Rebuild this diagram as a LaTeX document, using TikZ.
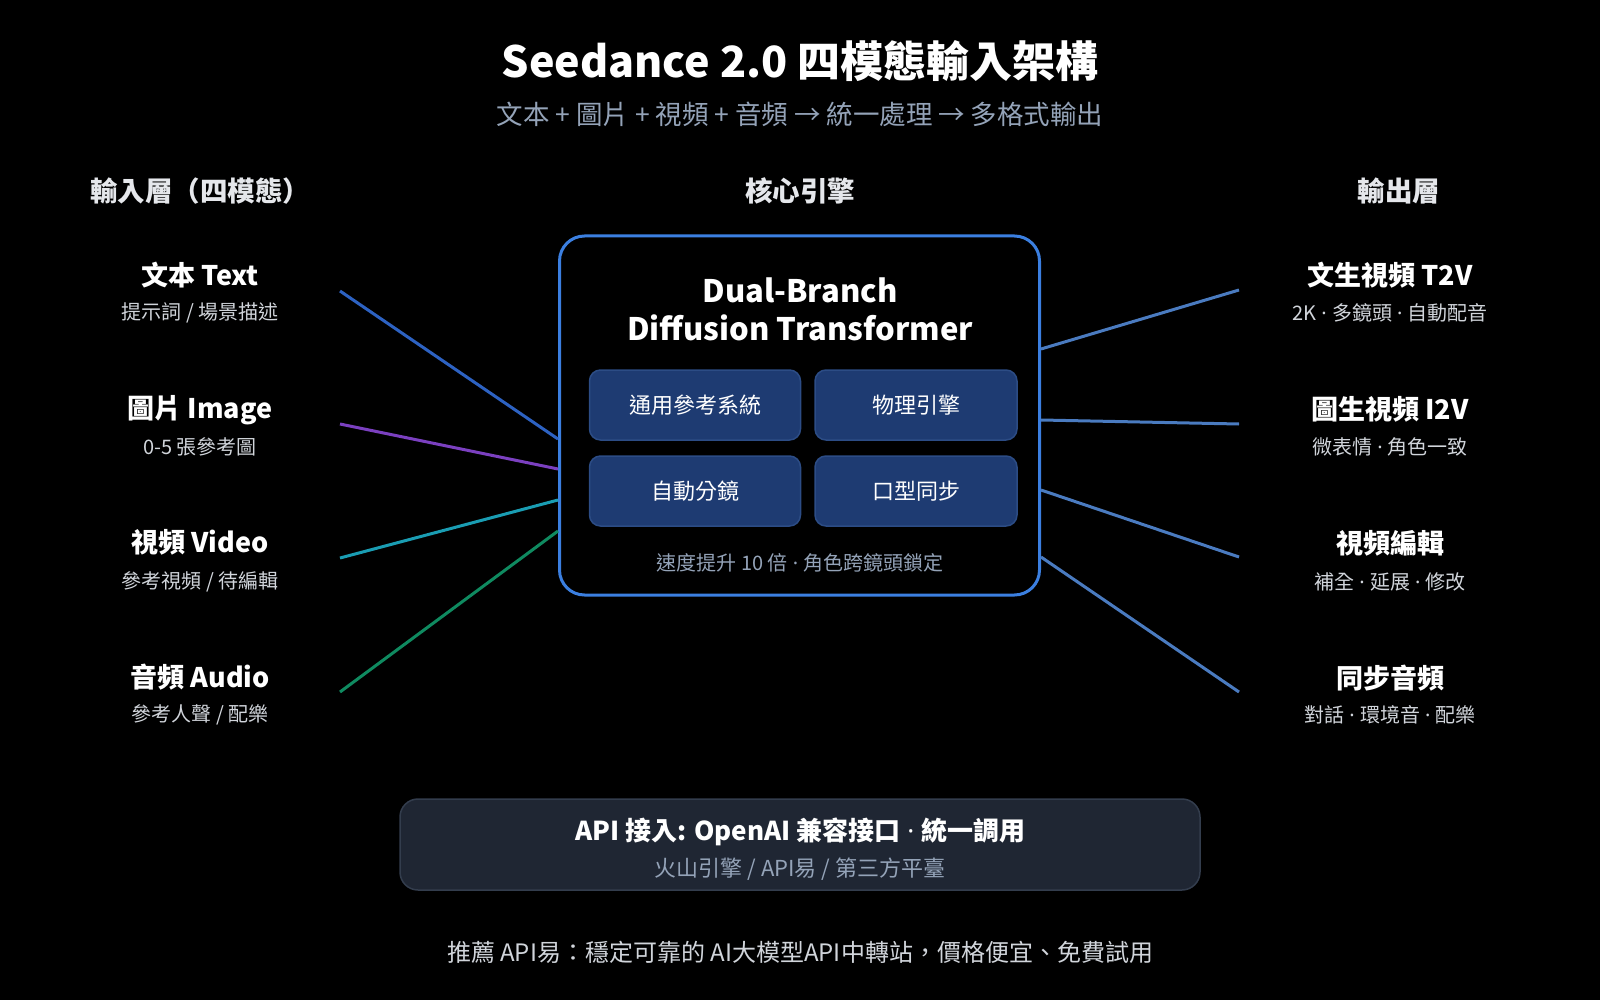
\documentclass[tikz,border=0pt]{standalone}
\usepackage{fontspec}
\setmainfont{Noto Sans CJK TC}
\newfontfamily\latinfont{Noto Sans}
\newcommand{\middot}{{\latinfont\ ·\ }}
\usetikzlibrary{positioning}

\definecolor{coreblue}{RGB}{59,127,224}
\definecolor{linktext}{RGB}{45,98,194}
\definecolor{linkimage}{RGB}{123,64,192}
\definecolor{linkvideo}{RGB}{26,157,179}
\definecolor{linkaudio}{RGB}{15,138,96}
\definecolor{linkout}{RGB}{74,123,192}
\definecolor{modfill}{RGB}{30,59,114}
\definecolor{modborder}{RGB}{44,76,133}
\definecolor{apifill}{RGB}{31,38,51}
\definecolor{apiborder}{RGB}{51,61,77}
\definecolor{slategray}{RGB}{148,163,184}
\definecolor{softgray}{RGB}{209,213,219}
\definecolor{headgray}{RGB}{229,231,235}

\begin{document}
\begin{tikzpicture}[x=1pt, y=-1pt,
    maintitle/.style={text=white, font=\fontsize{43}{50}\selectfont\bfseries},
    subtitle/.style={text=slategray, font=\fontsize{26.5}{32}\selectfont},
    colhead/.style={text=headgray, font=\fontsize{27.5}{32}\selectfont\bfseries},
    modname/.style={text=white, font=\fontsize{27}{32}\selectfont\bfseries},
    moddesc/.style={text=softgray, font=\fontsize{20}{24}\selectfont},
    modbox/.style={draw=modborder, fill=modfill, line width=1.5pt, rounded corners=11pt,
        minimum height=70pt, text=white, font=\fontsize{22}{26}\selectfont},
    link/.style={line width=3pt}
  ]
    \useasboundingbox (0,0) rectangle (1600,1000);
    \fill[black] (0,0) rectangle (1600,1000);

    % title
    \node[maintitle] (title) at (800,61) {Seedance 2.0 四模態輸入架構};
    \node[subtitle] (subtitle) at (800,114) {文本 + 圖片 + 視頻 + 音頻 → 統一處理 → 多格式輸出};

    % column headers
    \node[colhead] (inhead) at (200,191) {輸入層（四模態）};
    \node[colhead] (corehead) at (800,191) {核心引擎};
    \node[colhead] (outhead) at (1399,191) {輸出層};

    % core engine
    \node[draw=coreblue, line width=3pt, fill=black, rounded corners=25pt,
        minimum width=480pt, minimum height=359pt] (core) at (799.5,415.5) {};
    \node[text=white, font=\fontsize{31}{38}\selectfont\bfseries, align=center] (dit) at (800,309)
        {Dual-Branch\\Diffusion Transformer};
    \node[modbox, minimum width=211pt] (refsys) at (695,405) {通用參考系統};
    \node[modbox, minimum width=202pt] (physics) at (916,405) {物理引擎};
    \node[modbox, minimum width=211pt] (autocut) at (695,491) {自動分鏡};
    \node[modbox, minimum width=202pt] (lipsync) at (916,491) {口型同步};
    \node[text=slategray, font=\fontsize{20}{24}\selectfont] (speed) at (800,563)
        {速度提升 10 倍\middot 角色跨鏡頭鎖定};

    % inputs
    \node[modname] (text) at (200,275) {文本 Text};
    \node[moddesc] (textdesc) at (200,313) {提示詞 / 場景描述};
    \node[modname] (image) at (200,410) {圖片 Image};
    \node[moddesc] (imagedesc) at (200,447) {0-5 張參考圖};
    \node[modname] (video) at (200,542) {視頻 Video};
    \node[moddesc] (videodesc) at (200,582) {參考視頻 / 待編輯};
    \node[modname] (audio) at (200,677) {音頻 Audio};
    \node[moddesc] (audiodesc) at (200,715) {參考人聲 / 配樂};

    % outputs
    \node[modname] (t2v) at (1390,275) {文生視頻 T2V};
    \node[moddesc] (t2vdesc) at (1390,313) {2K\middot 多鏡頭\middot 自動配音};
    \node[modname] (i2v) at (1390,409) {圖生視頻 I2V};
    \node[moddesc] (i2vdesc) at (1390,447) {微表情\middot 角色一致};
    \node[modname] (vedit) at (1390,543) {視頻編輯};
    \node[moddesc] (veditdesc) at (1390,582) {補全\middot 延展\middot 修改};
    \node[modname] (syncaudio) at (1390,678) {同步音頻};
    \node[moddesc] (syncaudiodesc) at (1390,715) {對話\middot 環境音\middot 配樂};

    % connector ends
    \coordinate (textend) at (340,291);
    \coordinate (imageend) at (340,424);
    \coordinate (videoend) at (340,558);
    \coordinate (audioend) at (340,692);
    \coordinate (t2vend) at (1239,290);
    \coordinate (i2vend) at (1239,424);
    \coordinate (veditend) at (1239,557);
    \coordinate (syncaudioend) at (1239,692);

    \draw[link, linktext] (textend) -- ([yshift=-23.5pt]core.west);
    \draw[link, linkimage] (imageend) -- ([yshift=-53.5pt]core.west);
    \draw[link, linkvideo] (videoend) -- ([yshift=-84.5pt]core.west);
    \draw[link, linkaudio] (audioend) -- ([yshift=-115.5pt]core.west);
    \draw[link, linkout] ([yshift=66.5pt]core.east) -- (t2vend);
    \draw[link, linkout] ([yshift=-4.5pt]core.east) -- (i2vend);
    \draw[link, linkout] ([yshift=-74.5pt]core.east) -- (veditend);
    \draw[link, linkout] ([yshift=-141.5pt]core.east) -- (syncaudioend);

    % api access
    \node[draw=apiborder, fill=apifill, line width=1.5pt, rounded corners=18pt,
        minimum width=800pt, minimum height=91pt] (api) at (800,844.5) {};
    \node[text=white, font=\fontsize{26}{30}\selectfont\bfseries] (apititle) at (800,832)
        {API 接入: OpenAI 兼容接口\middot 統一調用};
    \node[text=slategray, font=\fontsize{22}{26}\selectfont] (apidesc) at (800,869)
        {火山引擎 / API易 / 第三方平臺};

    % footer
    \node[text=softgray, font=\fontsize{24}{28}\selectfont] (footer) at (800,952)
        {推薦 API易：穩定可靠的 AI大模型API中轉站，價格便宜、免費試用};
\end{tikzpicture}
\end{document}
